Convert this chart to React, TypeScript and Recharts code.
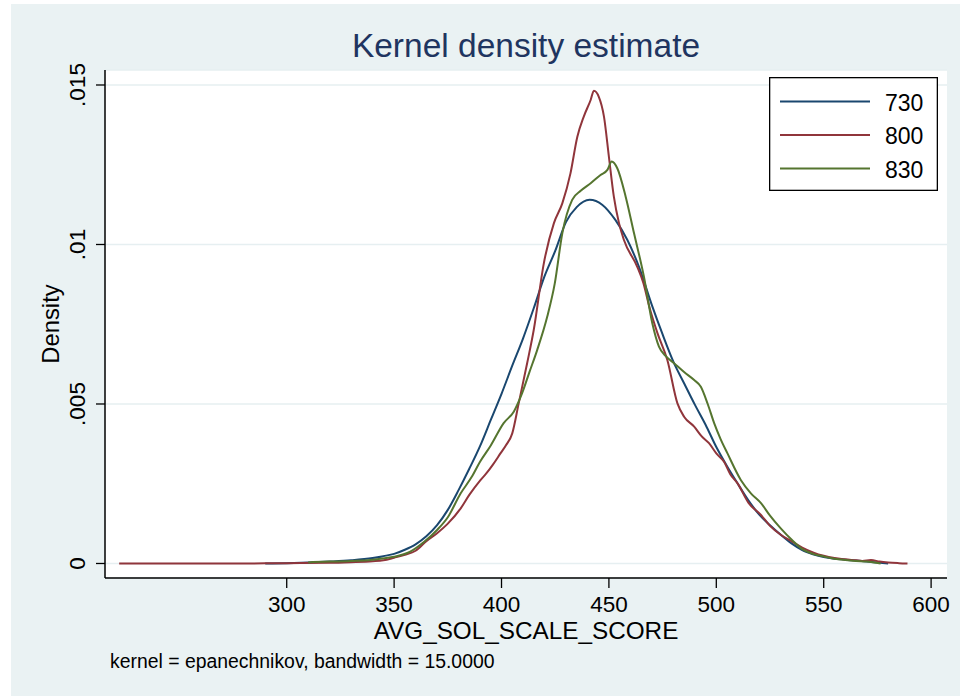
import React from 'react';
import { LineChart, Line, XAxis, YAxis, CartesianGrid, Legend } from 'recharts';

const xTicks = [300, 350, 400, 450, 500, 550, 600];
const yTicks = [0, 0.005, 0.01, 0.015];
const yTickLabels = ['0', '.005', '.01', '.015'];
const seriesNames = ['730', '800', '830'];
const seriesColors = ['#1A476F', '#90353B', '#55752F'];

const score730 = [290, 300, 310, 320, 330, 340, 345, 350, 355, 360, 365, 370, 375, 380, 385, 390, 395, 400, 405, 410, 415, 420, 425, 430, 435, 441, 447, 453, 458.6, 464, 470, 475, 480, 485, 490, 495, 500, 505, 510, 515, 520, 525, 530, 535, 540, 545, 550, 555, 560, 565, 570, 575, 580];
const density730 = [0, 0.00001, 0.00003, 0.00006, 0.0001, 0.00017, 0.00023, 0.0003, 0.00043, 0.0006, 0.00085, 0.0012, 0.00168, 0.0023, 0.00297, 0.00368, 0.0045, 0.00532, 0.0062, 0.00705, 0.008, 0.009, 0.0098, 0.0107, 0.01117, 0.0114, 0.01124, 0.01077, 0.01014, 0.0093, 0.0081, 0.00718, 0.00633, 0.00565, 0.00498, 0.00435, 0.00365, 0.00305, 0.0025, 0.00197, 0.00153, 0.0012, 0.0009, 0.00063, 0.00042, 0.00029, 0.0002, 0.00015, 0.00012, 0.00009, 0.00006, 0.00003, 0];

const score800 = [222, 250, 280, 300, 320, 330, 340, 345, 350, 355, 360, 365, 370, 375, 381, 385, 390, 393, 396, 399.5, 402, 405, 408, 412, 415, 419.7, 424.4, 428.3, 432.1, 435.3, 438.3, 441.5, 443, 445.3, 447.7, 450, 452.3, 454.7, 457, 463.2, 466, 469, 472.6, 477.2, 481.9, 485, 489.7, 493, 496.6, 500, 503.6, 506.5, 509.9, 515, 520.8, 525, 530, 535, 540, 545, 550, 555, 560, 565, 568, 572, 576, 580, 585, 589];
const density800 = [0, 0, 0, 0.00001, 0.00002, 0.00004, 0.00007, 0.0001, 0.00018, 0.00027, 0.0004, 0.0007, 0.00095, 0.00125, 0.00173, 0.00215, 0.0026, 0.00283, 0.0031, 0.00345, 0.0037, 0.00408, 0.00502, 0.0063, 0.00732, 0.00941, 0.01067, 0.01129, 0.01223, 0.01338, 0.01401, 0.01453, 0.01482, 0.01463, 0.01401, 0.01275, 0.0115, 0.01067, 0.01014, 0.0093, 0.0088, 0.008, 0.00722, 0.00638, 0.00502, 0.0046, 0.00429, 0.004, 0.00377, 0.00345, 0.00319, 0.0028, 0.00251, 0.0019, 0.00152, 0.00118, 0.0009, 0.0007, 0.0005, 0.00035, 0.00024, 0.00017, 0.00013, 0.0001, 0.00008, 0.00011, 0.00006, 0.00003, 0.00001, 0];

const score830 = [310, 312, 320, 330, 339, 345, 350, 357.5, 364, 370, 375, 381, 386, 390, 395, 401, 405.7, 409.6, 413, 416.6, 421.3, 424.8, 428.3, 432.9, 437, 441.5, 446.1, 449.3, 451.3, 453.9, 457.8, 461.7, 466.3, 470.2, 473.3, 476.5, 480.3, 485, 489.7, 492.8, 496, 499, 502, 505.2, 511.4, 516.1, 520.8, 525, 530, 535, 540, 545, 550, 555, 560, 565, 570, 576.5];
const density830 = [0.00003, 0.00005, 0.00006, 0.00008, 0.00011, 0.00016, 0.00021, 0.00037, 0.00068, 0.00105, 0.00145, 0.0022, 0.0027, 0.00319, 0.0037, 0.0044, 0.00476, 0.00534, 0.006, 0.00669, 0.00774, 0.00878, 0.01035, 0.0114, 0.01169, 0.01192, 0.01218, 0.01234, 0.0126, 0.01239, 0.0115, 0.01035, 0.00899, 0.00753, 0.0068, 0.0065, 0.00628, 0.006, 0.00575, 0.00554, 0.005, 0.0044, 0.0039, 0.00345, 0.00262, 0.0022, 0.00189, 0.0015, 0.0011, 0.00075, 0.00045, 0.0003, 0.00022, 0.00015, 0.00011, 0.00008, 0.00006, 0];

const toPoints = (xs: number[], ys: number[]) => xs.map((x, i) => ({ x, y: ys[i] }));
const seriesData = [toPoints(score730, density730), toPoints(score800, density800), toPoints(score830, density830)];

const FONT = 'Arial, "Liberation Sans", Helvetica, sans-serif';

const YTick = (props: any) => {
  const { x, y, payload } = props;
  const idx = yTicks.indexOf(payload.value);
  const label = idx >= 0 ? yTickLabels[idx] : String(payload.value);
  return (
    <text x={x} y={y} transform={`rotate(-90, ${x}, ${y})`} textAnchor="middle" fontSize={22.5} fontFamily={FONT} fill="#000">
      {label}
    </text>
  );
};

const LegendBox = (props: any) => {
  const payload = props.payload || [];
  return (
    <svg width={169} height={114} style={{ display: 'block' }}>
      <rect x={0.65} y={0.65} width={167.7} height={112.7} fill="#fff" stroke="#000" strokeWidth={1.3} />
      {payload.map((entry: any, i: number) => {
        const ly = 24.4 + i * 33.5;
        return (
          <g key={i}>
            <line x1={11} x2={101} y1={ly} y2={ly} stroke={entry.color} strokeWidth={2} />
            <text x={116} y={ly + 9.3} fontSize={23} fontFamily={FONT} fill="#000">{entry.value}</text>
          </g>
        );
      })}
    </svg>
  );
};

export default function App() {
  return (
    <div style={{ position: 'absolute', left: 0, top: 0, width: 960, height: 696, background: '#fff', overflow: 'hidden' }}>
      <div style={{ position: 'absolute', left: 11, top: 4, width: 949, height: 692, background: '#EAF2F3' }} />
      <div style={{ position: 'absolute', left: 0, top: 0 }}>
        <LineChart width={960} height={696} margin={{ top: 70, right: 13, bottom: 0, left: 45 }}>
          <CartesianGrid horizontal={true} vertical={false} fill="#fff" stroke="#E6EFF1" strokeWidth={1.5} />
          <XAxis
            dataKey="x"
            type="number"
            domain={[215.4, 607.4]}
            ticks={xTicks}
            allowDataOverflow
            height={118}
            tickSize={10}
            tickMargin={8}
            stroke="#000"
            strokeWidth={1.5}
            tick={{ fontSize: 22.5, fontFamily: FONT, fill: '#000' }}
            tickLine={{ stroke: '#000', strokeWidth: 1.3 }}
            label={{
              content: (p: any) => {
                const vb = p.viewBox || {};
                return (
                  <text x={vb.x + vb.width / 2} y={vb.y + 60.5} textAnchor="middle" fontSize={24.3} fontFamily={FONT} fill="#000">
                    AVG_SOL_SCALE_SCORE
                  </text>
                );
              },
            }}
          />
          <YAxis
            type="number"
            domain={[-0.000455, 0.01547]}
            ticks={yTicks}
            allowDataOverflow
            width={60}
            tickSize={9}
            tickMargin={11}
            stroke="#000"
            strokeWidth={1.5}
            tick={<YTick />}
            tickLine={{ stroke: '#000', strokeWidth: 1.3 }}
            label={{
              content: (p: any) => {
                const vb = p.viewBox || {};
                const cx = vb.x + vb.width - 46;
                const cy = vb.y + vb.height / 2;
                return (
                  <text x={cx} y={cy} transform={`rotate(-90, ${cx}, ${cy})`} textAnchor="middle" fontSize={23.8} fontFamily={FONT} fill="#000">
                    Density
                  </text>
                );
              },
            }}
          />
          {seriesData.map((d, i) => (
            <Line
              key={seriesNames[i]}
              data={d}
              dataKey="y"
              name={seriesNames[i]}
              type="monotone"
              stroke={seriesColors[i]}
              strokeWidth={2}
              dot={false}
              activeDot={false}
              isAnimationActive={false}
            />
          ))}
          <Legend
            layout="vertical"
            align="center"
            verticalAlign="middle"
            content={<LegendBox />}
            wrapperStyle={{ position: 'absolute', left: 769, top: 77, width: 169, height: 114 }}
          />
        </LineChart>
      </div>
      <svg width={960} height={696} style={{ position: 'absolute', left: 0, top: 0, pointerEvents: 'none' }}>
        <text x={526} y={56.7} textAnchor="middle" fontSize={33.5} fontFamily={FONT} fill="#1F3560">
          Kernel density estimate
        </text>
        <text x={110} y={668.3} fontSize={19.4} fontFamily={FONT} fill="#000">
          kernel = epanechnikov, bandwidth = 15.0000
        </text>
      </svg>
    </div>
  );
}
